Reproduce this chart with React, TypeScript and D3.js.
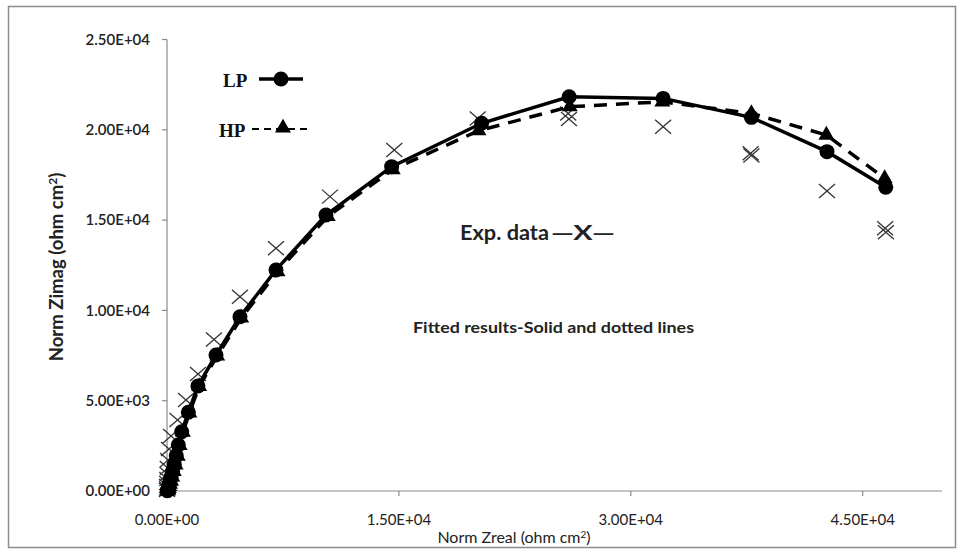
import React from "react";
import * as d3 from "d3";

// ---- data ----
const lpZreal = [20, 35, 55, 80, 110, 150, 200, 270, 360, 470, 600, 730, 950, 1380, 2000, 3170, 4720, 7050, 10280, 14530, 20350, 26010, 32090, 37800, 42690, 46490];
const lpZimag = [10, 40, 90, 160, 260, 390, 560, 790, 1090, 1460, 1950, 2550, 3280, 4360, 5810, 7530, 9650, 12240, 15280, 17960, 20360, 21830, 21740, 20690, 18790, 16820];

const hpZreal = [40, 60, 85, 115, 150, 200, 260, 340, 440, 560, 700, 820, 1030, 1450, 2080, 3250, 4800, 7150, 10400, 14600, 20150, 26050, 32040, 37800, 42650, 46420];
const hpZimag = [10, 35, 80, 150, 250, 380, 550, 780, 1080, 1450, 1930, 2530, 3260, 4330, 5790, 7480, 9580, 12150, 15200, 17800, 19950, 21280, 21550, 20910, 19710, 17310];

const expZreal = [0, 0, 0, 10, 20, 30, 50, 70, 130, 259, 679, 1228, 2004, 3039, 4720, 7047, 10540, 14700, 20100, 25950, 26000, 32090, 37750, 37800, 42690, 46450, 46500];
const expZimag = [50, 138, 277, 443, 664, 941, 1274, 1716, 2326, 3045, 3931, 5039, 6478, 8389, 10760, 13440, 16300, 18880, 20620, 20900, 20600, 20170, 18700, 18580, 16610, 14550, 14330];

const xTicks = [0, 15000, 30000, 45000];
const yTicks = [0, 5000, 10000, 15000, 20000, 25000];
const xTickLabels = ["0.00E+00", "1.50E+04", "3.00E+04", "4.50E+04"];
const yTickLabels = ["0.00E+00", "5.00E+03", "1.00E+04", "1.50E+04", "2.00E+04", "2.50E+04"];

const W = 964;
const H = 549;
const PL = 167, PR = 940, PT = 39.5, PB = 491;

export default function App() {
  const x = d3.scaleLinear().domain([0, 50000]).range([PL, PR]);
  const y = d3.scaleLinear().domain([0, 25000]).range([PB, PT]);

  const lp = lpZreal.map((v, i) => [v, lpZimag[i]] as [number, number]);
  const hp = hpZreal.map((v, i) => [v, hpZimag[i]] as [number, number]);
  const ex = expZreal.map((v, i) => [v, expZimag[i]] as [number, number]);

  const line = d3.line<[number, number]>().x((d) => x(d[0])).y((d) => y(d[1]));
  const tri = d3.symbol().type(d3.symbolTriangle).size(110)() as string;
  const tickFont = "Lato, 'Open Sans', sans-serif";

  return (
    <svg width={W} height={H} style={{ position: "absolute", left: 0, top: 0, background: "#fff" }}>
      <rect x={8.5} y={6.5} width={947} height={541} fill="#fff" stroke="#8c8c8c" strokeWidth={1.5} />

      {/* axes */}
      <line x1={PL} x2={PL} y1={PT} y2={PB} stroke="#8a8a8a" strokeWidth={1.2} />
      <line x1={PL} x2={942} y1={PB} y2={PB} stroke="#8a8a8a" strokeWidth={1.2} />
      {yTicks.map((t, i) => (
        <g key={"yt" + i}>
          <line x1={PL - 5} x2={PL} y1={y(t)} y2={y(t)} stroke="#8a8a8a" strokeWidth={1.2} />
          <text x={150} y={y(t)} dy="0.35em" textAnchor="end" fontFamily={tickFont} fontSize={15} fontWeight={600} fill="#222">
            {yTickLabels[i]}
          </text>
        </g>
      ))}
      {xTicks.map((t, i) => (
        <g key={"xt" + i}>
          <line x1={x(t)} x2={x(t)} y1={PB} y2={PB + 5} stroke="#8a8a8a" strokeWidth={1.2} />
          <text x={x(t)} y={525} textAnchor="middle" fontFamily={tickFont} fontSize={15} fill="#222">
            {xTickLabels[i]}
          </text>
        </g>
      ))}

      <text x={514} y={543} textAnchor="middle" fontFamily={tickFont} fontSize={16} fill="#222">
        Norm Zreal (ohm cm<tspan dy={-5} fontSize={10}>2</tspan><tspan dy={5}>)</tspan>
      </text>
      <text transform="translate(63,267) rotate(-90)" textAnchor="middle" fontFamily={tickFont} fontSize={18.5} fontWeight={700} fill="#222">
        Norm Zimag (ohm cm<tspan dy={-6} fontSize={12}>2</tspan><tspan dy={6}>)</tspan>
      </text>

      {/* experimental data */}
      {ex.map((d, i) => (
        <g key={"ex" + i} transform={`translate(${x(d[0])},${y(d[1])})`} stroke="#333" strokeWidth={1.3}>
          <line x1={-8} y1={-7} x2={8} y2={7} />
          <line x1={-8} y1={7} x2={8} y2={-7} />
        </g>
      ))}

      {/* HP fitted */}
      <path d={line(hp) as string} fill="none" stroke="#000" strokeWidth={3.5} strokeDasharray="13 9" />
      {hp.map((d, i) => (
        <path key={"hp" + i} d={tri} transform={`translate(${x(d[0])},${y(d[1])})`} fill="#000" />
      ))}

      {/* LP fitted */}
      <path d={line(lp) as string} fill="none" stroke="#000" strokeWidth={3.5} />
      {lp.map((d, i) => (
        <circle key={"lp" + i} cx={x(d[0])} cy={y(d[1])} r={7.5} fill="#000" />
      ))}

      {/* legend */}
      <text x={223} y={87} fontFamily="'Liberation Serif', serif" fontWeight={700} fontSize={19} fill="#111">LP</text>
      <line x1={259} x2={303} y1={79} y2={79} stroke="#000" strokeWidth={3.5} />
      <circle cx={281} cy={79} r={7.5} fill="#000" />

      <text x={219} y={137} fontFamily="'Liberation Serif', serif" fontWeight={700} fontSize={19} fill="#111">HP</text>
      <line x1={252} x2={311} y1={129} y2={129} stroke="#000" strokeWidth={2} strokeDasharray="7 5" />
      <path d={tri} transform="translate(283,128)" fill="#000" />

      <text x={460} y={240} fontFamily={tickFont} fontWeight={700} fontSize={20} fill="#222" textLength={89} lengthAdjust="spacingAndGlyphs">Exp. data</text>
      <text x={551} y={240} fontFamily={tickFont} fontWeight={700} fontSize={20} fill="#222" textLength={64} lengthAdjust="spacingAndGlyphs">—X—</text>
      <text x={413} y={333} fontFamily={tickFont} fontWeight={700} fontSize={15} fill="#222" textLength={281} lengthAdjust="spacingAndGlyphs">Fitted results-Solid and dotted lines</text>
    </svg>
  );
}
